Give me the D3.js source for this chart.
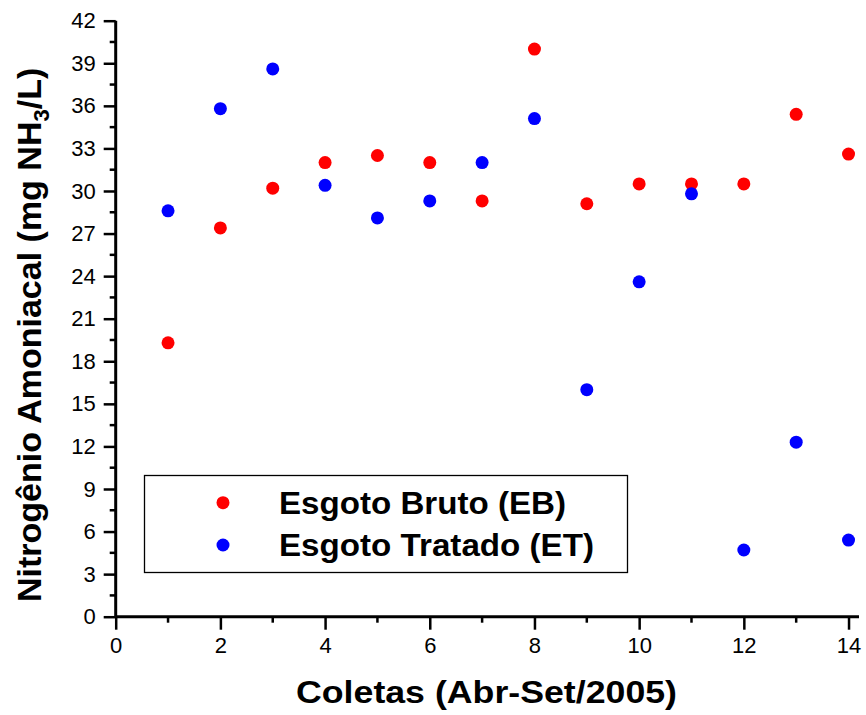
<!DOCTYPE html>
<html><head><meta charset="utf-8">
<script src="https://cdn.jsdelivr.net/npm/d3@7"></script>
<style>body{margin:0;background:#fff}svg{display:block}</style>
</head><body>
<script>
const coletas = [1,2,3,4,5,6,7,8,9,10,11,12,13,14];
const esgotoBruto = [19.3,27.4,30.2,32.0,32.5,32.0,29.3,40.0,29.1,30.5,30.5,30.5,35.4,32.6];
const esgotoTratado = [28.6,35.8,38.6,30.4,28.1,29.3,32.0,35.1,16.0,23.6,29.8,4.7,12.3,5.4];
const xTicks = [0,2,4,6,8,10,12,14];
const yTicks = [0,3,6,9,12,15,18,21,24,27,30,33,36,39,42];
const seriesNames = ["Esgoto Bruto (EB)","Esgoto Tratado (ET)"];
const seriesColors = ["#ff0000","#0000ff"];

const W=866,H=715;
const svg=d3.select("body").append("svg").attr("width",W).attr("height",H);
const x=d3.scaleLinear().domain([0,14.2]).range([115.7,859]);
const y=d3.scaleLinear().domain([0,42]).range([616.7,20.7]);
const font="'Liberation Sans', Arial, sans-serif";

// axes
const xAxis=svg.append("g").attr("transform",`translate(0,${y(0)})`)
  .call(d3.axisBottom(x).tickValues(xTicks).tickSize(13).tickPadding(8).tickFormat(d3.format("d")));
xAxis.append("g").selectAll("line").data(d3.range(1,14,2)).join("line")
  .attr("x1",d=>x(d)).attr("x2",d=>x(d)).attr("y1",0).attr("y2",6).attr("stroke","#000").attr("stroke-width",2.5);
const yAxis=svg.append("g").attr("transform",`translate(${x(0)},0)`)
  .call(d3.axisLeft(y).tickValues(yTicks).tickSize(12).tickPadding(8).tickFormat(d3.format("d")));
yAxis.append("g").selectAll("line").data(d3.range(1.5,42,3)).join("line")
  .attr("y1",d=>y(d)).attr("y2",d=>y(d)).attr("x1",0).attr("x2",-6).attr("stroke","#000").attr("stroke-width",2.5);
[xAxis,yAxis].forEach(g=>{
  g.select(".domain").attr("stroke","#000").attr("stroke-width",3);
  g.selectAll(".tick line").attr("stroke","#000").attr("stroke-width",2.5);
  g.selectAll(".tick text").attr("font-family",font).attr("font-size",22).attr("fill","#000");
});
xAxis.select(".domain").attr("d",`M${x(0)},0H${x(14.2)}`);
yAxis.select(".domain").attr("d",`M0,${y(0)}V${y(42)}`);

// points
const series=[esgotoBruto,esgotoTratado];
series.forEach((vals,i)=>{
  svg.append("g").selectAll("circle").data(coletas).join("circle")
    .attr("cx",d=>x(d)).attr("cy",(d,j)=>y(vals[j])).attr("r",6.5).attr("fill",seriesColors[i]);
});

// legend
svg.append("rect").attr("x",144.5).attr("y",475.5).attr("width",483).attr("height",97)
  .attr("fill","none").attr("stroke","#000").attr("stroke-width",1.3);
const legLen=[287,315];
seriesNames.forEach((n,i)=>{
  const cy=[502.7,545][i];
  svg.append("circle").attr("cx",223).attr("cy",cy).attr("r",6.5).attr("fill",seriesColors[i]);
  svg.append("text").attr("x",279).attr("y",cy+11).attr("font-family",font).attr("font-weight","bold")
    .attr("font-size",31).attr("textLength",legLen[i]).attr("lengthAdjust","spacingAndGlyphs").text(n);
});

// axis titles
svg.append("text").attr("x",296).attr("y",703).attr("font-family",font).attr("font-weight","bold")
  .attr("font-size",31).attr("textLength",381).attr("lengthAdjust","spacingAndGlyphs").text("Coletas (Abr-Set/2005)");
const yt=svg.append("text").attr("transform","translate(41,602) rotate(-90)")
  .attr("font-family",font).attr("font-weight","bold").attr("font-size",34);
yt.append("tspan").text("Nitrogênio Amoniacal (mg NH");
yt.append("tspan").attr("font-size",22).attr("dy",8).text("3");
yt.append("tspan").attr("dy",-8).text("/L)");
</script>
</body></html>
